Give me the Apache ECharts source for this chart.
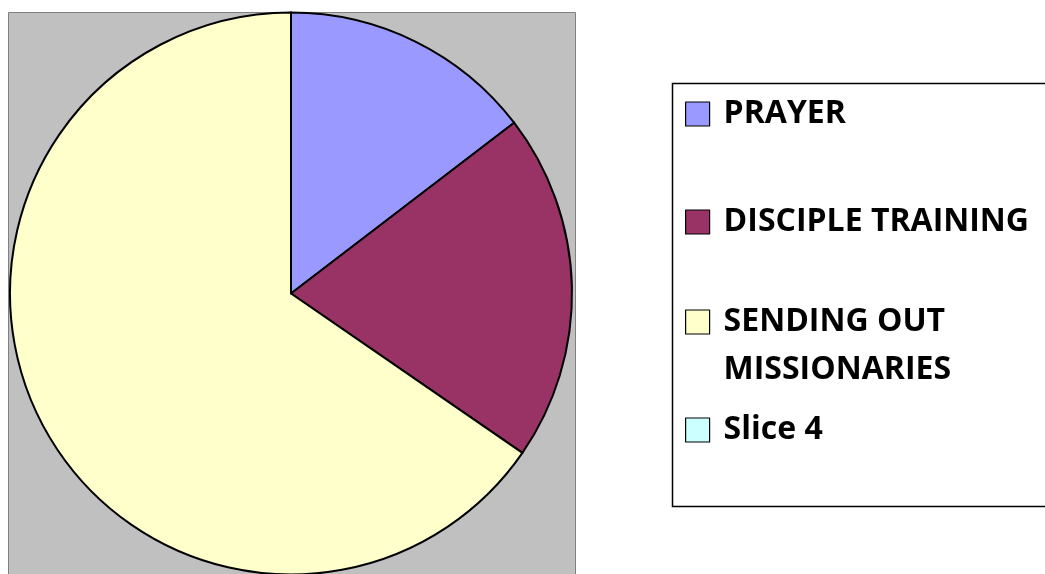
<!DOCTYPE html>
<html>
<head>
<meta charset="utf-8">
<script src="https://cdn.jsdelivr.net/npm/echarts@6/dist/echarts.min.js"></script>
<style>html,body{margin:0;padding:0;background:#fff;}#c{width:1045px;height:574px;}</style>
</head>
<body>
<div id="c"></div>
<script>
const categories = ['PRAYER', 'DISCIPLE TRAINING', 'SENDING OUT MISSIONARIES', 'Slice 4'];
const legendLabels = ['PRAYER', 'DISCIPLE TRAINING', '\nSENDING OUT\nMISSIONARIES', 'Slice 4'];
const values = [14.6, 20, 65.4, 0];
const colors = ['#9999ff', '#993366', '#ffffcc', '#ccffff'];

const FONT = '"Open Sans", sans-serif';
const LH = 48;
const itemCenters = [114, 222, 322, 430];
const legends = categories.map((name, i) => {
  const lines = legendLabels[i].split('\n').length;
  const h = lines * LH;
  return {
    orient: 'vertical',
    left: 685,
    top: itemCenters[i] - h / 2,
    padding: 0,
    selectedMode: false,
    icon: 'rect',
    itemWidth: 24,
    itemHeight: 24,
    itemStyle: { borderColor: '#000', borderWidth: 1.2 },
    data: [name],
    formatter: () => legendLabels[i],
    textStyle: {
      fontFamily: FONT,
      fontWeight: 'bold',
      fontSize: 32,
      color: '#000',
      lineHeight: LH,
      padding: [0, 0, 0, 9]
    }
  };
});

const chart = echarts.init(document.getElementById('c'), null, { renderer: 'canvas' });
chart.setOption({
  animation: false,
  graphic: [
    { type: 'rect', z: -10, shape: { x: 8.5, y: 12.5, width: 567, height: 580 },
      style: { fill: '#c0c0c0', stroke: '#808080', lineWidth: 1 } },
    { type: 'rect', z: -10, shape: { x: 672.5, y: 83.5, width: 400, height: 423 },
      style: { fill: '#fff', stroke: '#000', lineWidth: 1.5 } }
  ],
  legend: legends,
  series: [{
    type: 'pie',
    center: [291, 293.5],
    radius: 281,
    startAngle: 90,
    clockwise: true,
    silent: true,
    label: { show: false },
    labelLine: { show: false },
    itemStyle: { borderColor: '#000', borderWidth: 2 },
    data: categories.map((n, i) => ({ name: n, value: values[i], itemStyle: { color: colors[i] } }))
  }]
});
</script>
</body>
</html>
